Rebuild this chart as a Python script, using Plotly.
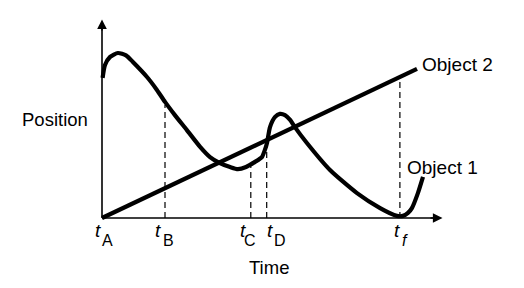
import plotly.graph_objects as go

# ---- data (time / position units) ----
obj1_t = [0.02, 0.10, 0.27, 0.53, 0.80, 1.03, 1.50, 1.83, 2.10, 2.43, 2.83, 3.27, 3.60,
          3.93, 4.27, 4.53, 4.80, 5.10, 5.33, 5.43, 5.50, 5.60, 5.77, 5.93, 6.10, 6.27,
          6.43, 6.83, 7.60, 8.50, 9.27, 9.83, 10.03, 10.20, 10.33, 10.53, 10.70]
obj1_p = [4.67, 5.10, 5.37, 5.50, 5.42, 5.20, 4.70, 4.27, 3.87, 3.43, 2.93, 2.37, 2.03,
          1.83, 1.70, 1.63, 1.70, 1.87, 2.03, 2.27, 2.50, 3.03, 3.37, 3.47, 3.43, 3.27,
          3.03, 2.50, 1.60, 0.83, 0.33, 0.07, 0.07, 0.17, 0.33, 0.83, 1.37]
obj2_t = [0.0, 10.5]
obj2_p = [0.0, 4.97]

mark_names = ["A", "B", "C", "D", "f"]
mark_times = [0.0, 2.10, 4.96, 5.49, 9.93]
mark_tops = [0.0, 3.77, 1.73, 2.50, 4.77]   # where dashed guides end

series_labels = ["Object 1", "Object 2"]
axis_titles = ["Time", "Position"]

W, H = 524, 288
X0, Y0, S = 102, 218, 30.0  # origin pixel and px per unit (layout only)

def px(xp, yp):
    return xp / W, 1 - yp / H

fig = go.Figure()

# dashed guides
for t, top in zip(mark_times[1:], mark_tops[1:]):
    fig.add_trace(go.Scatter(x=[t, t], y=[0, top], mode="lines",
                             line=dict(color="black", width=1.2, dash="6px,4px"),
                             hoverinfo="skip", showlegend=False))

# axes lines
fig.add_trace(go.Scatter(x=[0, 0], y=[0, 6.4], mode="lines",
                         line=dict(color="black", width=1.6), showlegend=False))
fig.add_trace(go.Scatter(x=[0, 11.1], y=[0, 0], mode="lines",
                         line=dict(color="black", width=1.6), showlegend=False))

# objects
fig.add_trace(go.Scatter(x=obj2_t, y=obj2_p, mode="lines",
                         line=dict(color="black", width=4.2), showlegend=False))
fig.add_trace(go.Scatter(x=obj1_t, y=obj1_p, mode="lines",
                         line=dict(color="black", width=4.2, shape="spline", smoothing=0.6),
                         showlegend=False))

ann = []
# arrow heads
ann.append(dict(x=0, y=6.62, ax=0, ay=6.2, xref="x", yref="y", axref="x", ayref="y",
                showarrow=True, arrowhead=2, arrowsize=1.2, arrowwidth=1.6, arrowcolor="black", text=""))
ann.append(dict(x=11.35, y=0, ax=10.9, ay=0, xref="x", yref="y", axref="x", ayref="y",
                showarrow=True, arrowhead=2, arrowsize=1.2, arrowwidth=1.6, arrowcolor="black", text=""))

FONT = "Liberation Sans, Arial, Helvetica, sans-serif"
# tick labels: px offsets of the "t" and of the subscript relative to the tick
t_off = [-3.6, -7.5, -8.2, 3.3, -2.5]
s_off = [5.2, 3.0, -0.7, 13.3, 5.0]
for name, t, a, b in zip(mark_names, mark_times, t_off, s_off):
    xp = X0 + t * S
    sub = "<i>f</i>" if name == "f" else name
    ann.append(dict(x=(xp + a) / W, y=1 - 230 / H, xref="paper", yref="paper",
                    text="<i>t</i>", showarrow=False, xanchor="center", yanchor="middle",
                    font=dict(family=FONT, size=19, color="black")))
    ann.append(dict(x=(xp + b) / W, y=1 - 240 / H, xref="paper", yref="paper",
                    text=sub, showarrow=False, xanchor="center", yanchor="middle",
                    font=dict(family=FONT, size=16, color="black")))

x, y = px(268.5, 267)
ann.append(dict(x=x, y=y, xref="paper", yref="paper", text=axis_titles[0], showarrow=False,
                xanchor="center", yanchor="middle", font=dict(family=FONT, size=18.5, color="black")))
x, y = px(55, 119.5)
ann.append(dict(x=x, y=y, xref="paper", yref="paper", text=axis_titles[1], showarrow=False,
                xanchor="center", yanchor="middle", font=dict(family=FONT, size=18.5, color="black")))
x, y = px(405, 167)
ann.append(dict(x=x, y=y, xref="paper", yref="paper", text=series_labels[0], showarrow=False,
                xanchor="left", yanchor="middle", font=dict(family=FONT, size=19, color="black")))
x, y = px(420, 64.5)
ann.append(dict(x=x, y=y, xref="paper", yref="paper", text=series_labels[1], showarrow=False,
                xanchor="left", yanchor="middle", font=dict(family=FONT, size=19, color="black")))

fig.update_layout(
    width=W, height=H, margin=dict(l=0, r=0, t=0, b=0),
    paper_bgcolor="white", plot_bgcolor="white",
    xaxis=dict(range=[-X0 / S, (W - X0) / S], visible=False, fixedrange=True),
    yaxis=dict(range=[-(H - Y0) / S, Y0 / S], visible=False, fixedrange=True),
    annotations=ann, showlegend=False,
)
fig.write_html("out.html", config={"displayModeBar": False})
